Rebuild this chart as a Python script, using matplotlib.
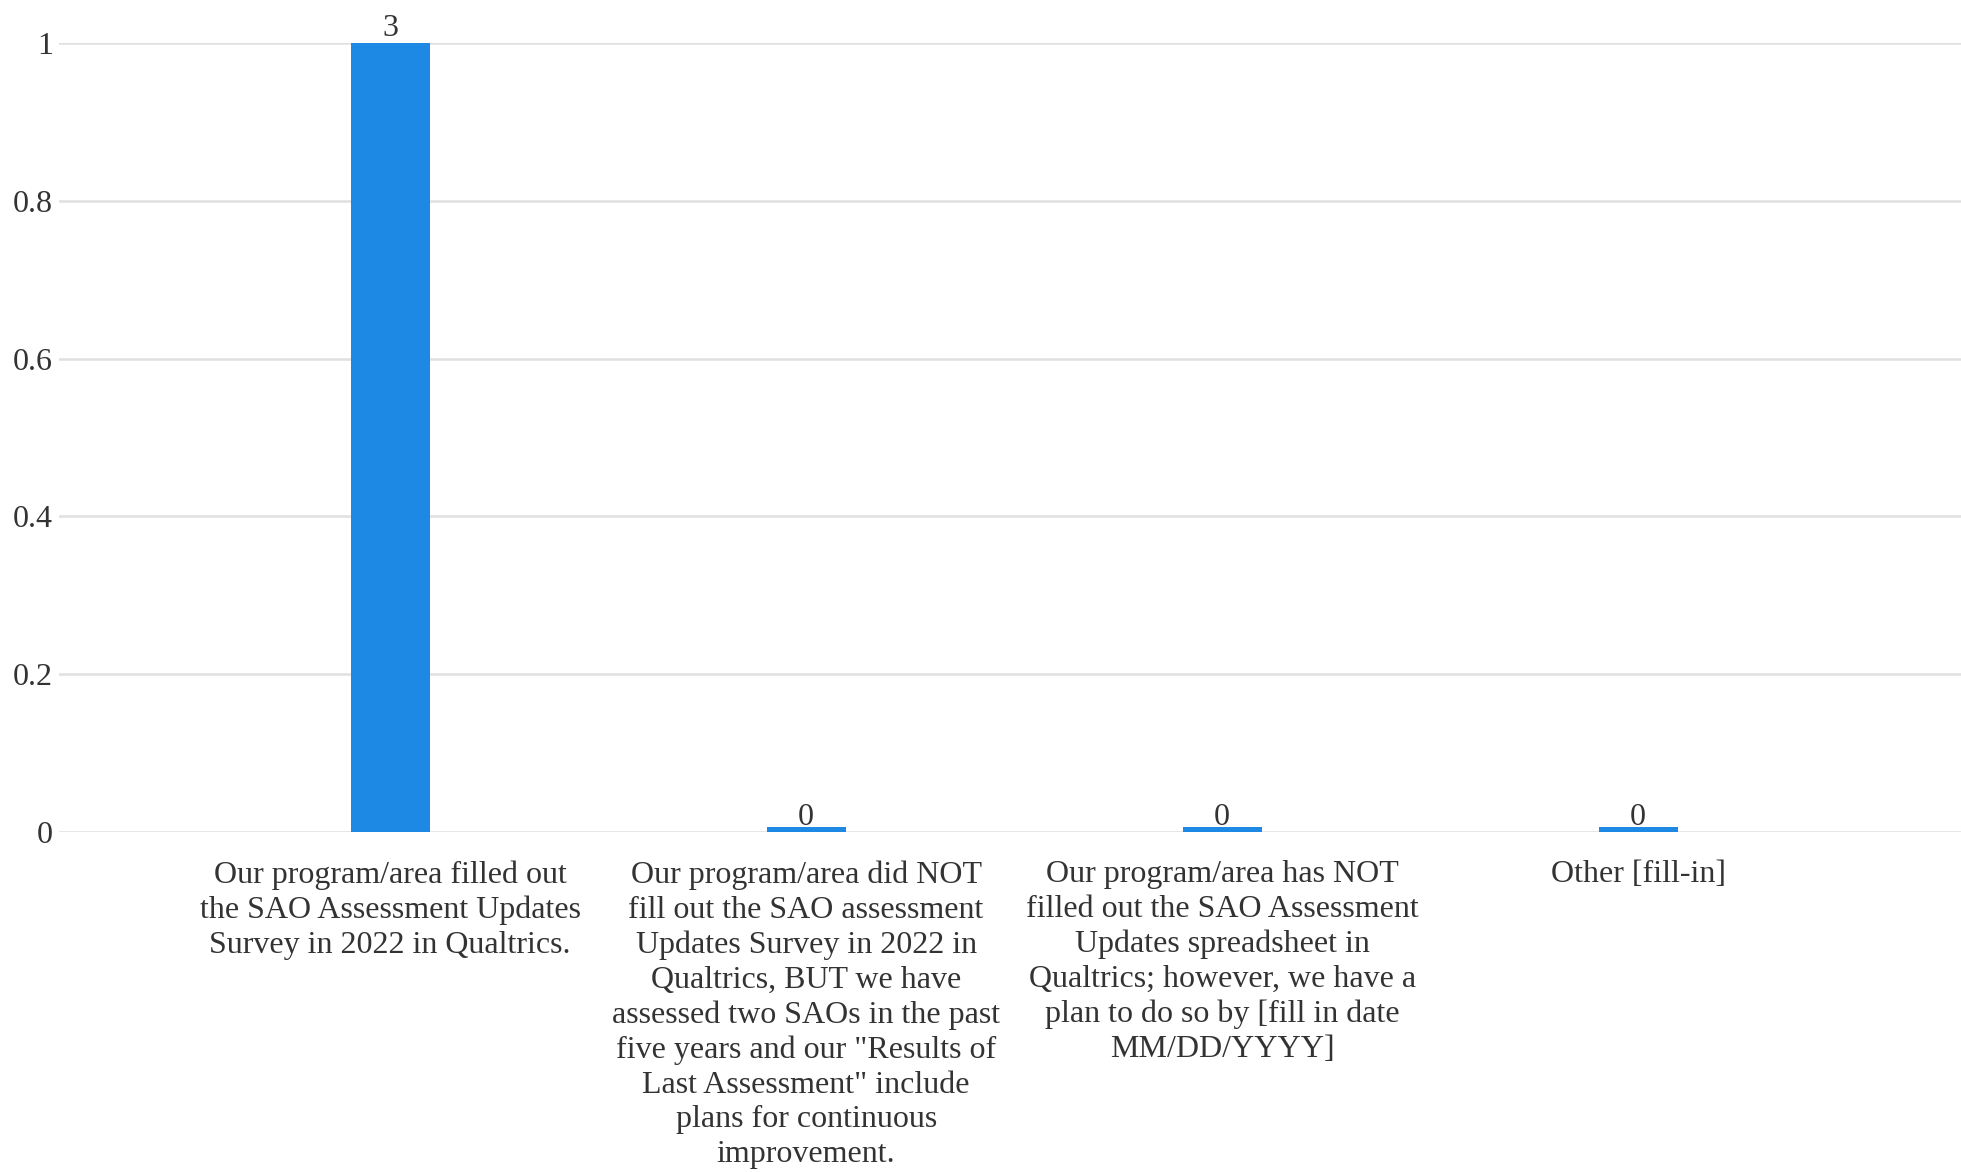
import matplotlib
matplotlib.use('Agg')
import matplotlib.pyplot as plt

categories = [
    "Our program/area filled out\nthe SAO Assessment Updates\nSurvey in 2022 in Qualtrics.",
    "Our program/area did NOT\nfill out the SAO assessment\nUpdates Survey in 2022 in\nQualtrics, BUT we have\nassessed two SAOs in the past\nfive years and our \"Results of\nLast Assessment\" include\nplans for continuous\nimprovement.",
    "Our program/area has NOT\nfilled out the SAO Assessment\nUpdates spreadsheet in\nQualtrics; however, we have a\nplan to do so by [fill in date\nMM/DD/YYYY]",
    "Other [fill-in]",
]
counts = [3, 0, 0, 0]
yTicks = [0, 0.2, 0.4, 0.6, 0.8, 1]
yTickLabels = ["0", "0.2", "0.4", "0.6", "0.8", "1"]

plt.rcParams['font.family'] = ['Liberation Serif', 'DejaVu Serif']
textColor = '#333333'
barColor = '#1E88E5'

fig = plt.figure(figsize=(19.61, 11.72), dpi=100)
ax = fig.add_axes([0.0301, 0.2901, 0.9699, 0.6732])

ymax = 1.0
xs = list(range(len(counts)))
# zero-valued bars still show as a thin strip, like the original
heights = [max(c, 0.006) for c in counts]
ax.bar(xs, heights, width=0.19, color=barColor, zorder=3)

for x, c in zip(xs, counts):
    ax.annotate(str(c), (x, min(c, ymax)), xytext=(0, 0), textcoords='offset points',
                ha='center', va='bottom', fontsize=23, color=textColor, annotation_clip=False)

ax.set_ylim(0, ymax)
ax.set_xlim(-0.796, 3.776)
ax.set_yticks(yTicks)
ax.set_yticklabels(yTickLabels)
ax.set_xticks(xs)
ax.set_xticklabels(categories, linespacing=1.255)
ax.tick_params(axis='both', length=0, labelsize=23, colors=textColor)
ax.tick_params(axis='y', pad=4.5)
ax.tick_params(axis='x', pad=20.5)
ax.grid(axis='y', color='#e0e0e0', linewidth=1.8, zorder=0)
ax.set_axisbelow(True)
for s in ax.spines.values():
    s.set_visible(False)

fig.savefig('out.png', dpi=100)
